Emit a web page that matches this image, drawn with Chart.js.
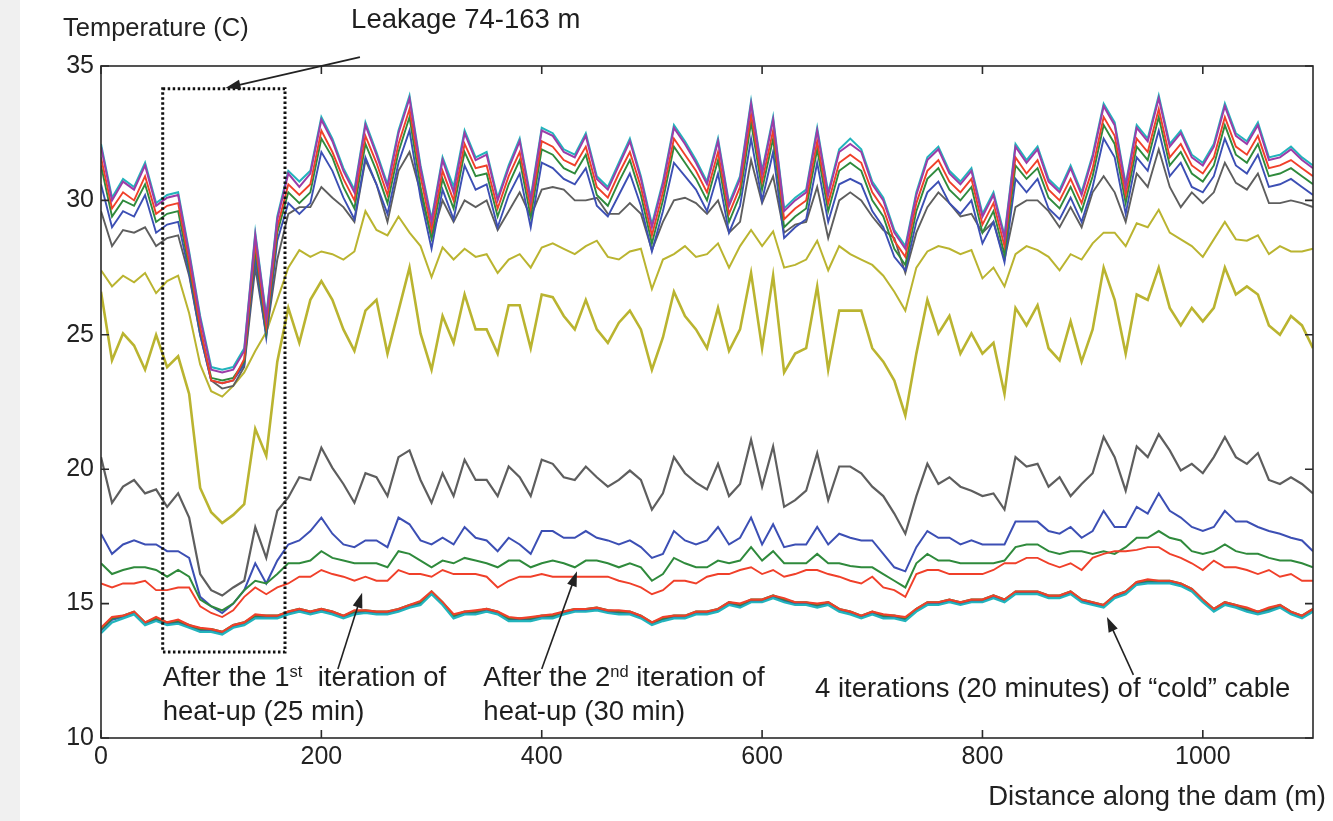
<!DOCTYPE html>
<html>
<head>
<meta charset="utf-8">
<script src="https://cdn.jsdelivr.net/npm/chart.js@4/dist/chart.umd.min.js"></script>
<style>
  html, body { margin: 0; padding: 0; background: #fff; }
  #wrap { width: 1333px; height: 821px; position: relative; }
</style>
</head>
<body>
<div id="wrap"><canvas id="chart" width="1333" height="821"></canvas></div>
<script>
// Distance along the dam (m), one sample every 10 m
const distance = [0,10,20,30,40,50,60,70,80,90,100,110,120,130,140,150,160,170,180,190,
  200,210,220,230,240,250,260,270,280,290,300,310,320,330,340,350,360,370,380,390,
  400,410,420,430,440,450,460,470,480,490,500,510,520,530,540,550,560,570,580,590,
  600,610,620,630,640,650,660,670,680,690,700,710,720,730,740,750,760,770,780,790,
  800,810,820,830,840,850,860,870,880,890,900,910,920,930,940,950,960,970,980,990,
  1000,1010,1020,1030,1040,1050,1060,1070,1080,1090,1100];

const xTicks = [0, 200, 400, 600, 800, 1000];
const yTicks = [10, 15, 20, 25, 30, 35];

// heated cable, last iterations (top bundle)
const hotPurple = [32.0,30.0,30.7,30.4,31.3,29.8,30.1,30.2,28.0,25.6,
  23.7,23.6,23.7,24.4,28.7,25.6,29.3,31.0,30.5,31.0,
  33.0,32.2,31.1,30.3,32.8,31.7,30.5,32.5,33.8,31.2,
  29.2,31.5,30.3,32.5,31.5,31.7,30.0,31.2,32.2,30.0,
  32.6,32.4,31.8,31.6,32.4,30.8,30.4,31.3,32.2,30.8,
  29.0,30.6,32.7,32.1,31.4,30.6,32.2,29.8,30.8,33.6,
  31.0,33.0,29.6,30.0,30.3,32.6,30.2,31.8,32.1,31.8,
  30.6,30.0,28.8,28.2,30.2,31.5,31.9,31.0,30.6,31.1,
  29.4,30.2,28.6,32.0,31.4,31.9,30.7,30.3,31.2,30.2,
  31.6,33.5,32.8,30.5,32.7,32.2,33.8,32.0,32.5,31.6,
  31.3,32.0,33.5,32.4,32.1,32.8,31.5,31.6,31.9,31.5,31.2];
const hotCyan = [32.1,30.1,30.8,30.5,31.4,29.9,30.2,30.3,28.1,25.7,
  23.8,23.7,23.8,24.5,28.8,25.7,29.4,31.1,30.7,31.1,
  33.1,32.3,31.2,30.4,32.9,31.8,30.6,32.6,33.9,31.3,
  29.3,31.6,30.5,32.6,31.6,31.8,30.1,31.3,32.3,30.1,
  32.7,32.5,31.9,31.7,32.5,30.9,30.5,31.4,32.3,30.9,
  29.1,30.7,32.8,32.2,31.5,30.7,32.3,29.9,30.9,33.7,
  31.1,33.1,29.7,30.1,30.4,32.7,30.3,31.9,32.3,31.9,
  30.7,30.1,28.9,28.3,30.3,31.6,32.0,31.1,30.7,31.2,
  29.5,30.3,28.7,32.1,31.5,32.0,30.8,30.4,31.3,30.3,
  31.7,33.6,32.9,30.6,32.8,32.3,33.9,32.1,32.6,31.7,
  31.4,32.1,33.6,32.5,32.2,32.9,31.6,31.7,32.0,31.6,31.3];
const hotRed = [31.6,29.7,30.3,30.0,30.9,29.5,29.8,29.9,27.7,25.3,
  23.3,23.2,23.3,24.1,28.4,25.3,29.0,30.6,30.2,30.6,
  32.6,31.8,30.8,30.0,32.4,31.4,30.2,32.1,33.4,30.9,
  28.9,31.1,30.0,32.1,31.2,31.3,29.7,30.9,31.8,29.7,
  32.2,32.0,31.5,31.3,32.0,30.5,30.1,31.0,31.8,30.5,
  28.7,30.3,32.3,31.7,31.1,30.3,31.8,29.5,30.5,33.2,
  30.7,32.6,29.3,29.7,30.0,32.2,29.9,31.4,31.7,31.4,
  30.3,29.7,28.5,27.9,29.9,31.1,31.5,30.7,30.3,30.8,
  29.1,29.9,28.3,31.6,31.0,31.5,30.4,30.0,30.8,29.9,
  31.2,33.1,32.4,30.2,32.3,31.8,33.4,31.6,32.1,31.3,
  31.0,31.6,33.1,32.0,31.7,32.4,31.2,31.3,31.5,31.2,30.9];
const hotGreen = [31.3,29.4,30.0,29.8,30.6,29.2,29.5,29.6,27.5,25.2,
  23.4,23.3,23.4,24.0,28.2,25.1,28.8,30.3,29.9,30.3,
  32.3,31.6,30.5,29.7,32.1,31.1,29.9,31.8,33.1,30.5,
  28.6,30.8,29.7,31.8,30.9,31.0,29.4,30.6,31.5,29.4,
  31.9,31.7,31.2,31.0,31.7,30.2,29.8,30.7,31.5,30.2,
  28.4,30.0,32.0,31.4,30.8,30.0,31.5,29.2,30.2,32.9,
  30.4,32.3,29.0,29.4,29.7,31.9,29.6,31.1,31.4,31.1,
  30.0,29.4,28.2,27.6,29.6,30.8,31.2,30.4,30.0,30.5,
  28.8,29.6,28.0,31.3,30.8,31.2,30.1,29.7,30.5,29.6,
  30.9,32.8,32.1,29.9,32.0,31.5,33.1,31.3,31.8,31.0,
  30.7,31.3,32.8,31.7,31.4,32.1,30.9,31.0,31.2,30.9,30.6];
const hotBlue = [30.6,29.0,29.6,29.4,30.2,28.8,29.1,29.2,27.3,25.0,
  23.3,23.2,23.3,23.9,27.9,24.9,28.5,29.9,29.5,29.9,
  31.8,31.1,30.1,29.3,31.6,30.6,29.5,31.4,32.6,30.1,
  28.2,30.4,29.3,31.3,30.4,30.6,29.0,30.2,31.0,29.0,
  31.4,31.2,30.8,30.6,31.2,29.8,29.4,30.2,31.0,29.8,
  28.1,29.6,31.4,30.9,30.4,29.6,31.0,28.8,29.8,32.3,
  30.0,31.8,28.6,29.0,29.3,31.4,29.2,30.6,30.8,30.6,
  29.6,29.0,27.9,27.4,29.2,30.3,30.7,29.9,29.5,30.0,
  28.4,29.2,27.7,30.8,30.3,30.8,29.7,29.3,30.1,29.2,
  30.5,32.3,31.6,29.5,31.6,31.1,32.6,30.9,31.4,30.5,
  30.3,30.9,32.3,31.3,31.0,31.7,30.5,30.6,30.8,30.5,30.2];
const hotGray = [29.6,28.3,28.9,28.8,29.0,28.3,28.6,28.7,27.2,25.0,
  23.3,23.0,23.1,23.8,27.5,25.0,27.8,29.5,29.75,29.75,
  30.5,30.1,29.75,29.2,31.5,30.6,29.2,31.1,31.8,30.3,
  28.6,30.0,29.2,30.0,29.75,30.0,28.9,29.6,30.3,29.4,
  30.4,30.5,30.4,30.0,30.0,30.1,29.5,29.5,29.9,29.5,
  28.15,29.2,30.0,30.1,29.9,29.5,30.0,28.8,29.2,31.5,
  29.9,30.9,28.8,29.1,29.2,30.5,28.6,30.0,30.3,30.0,
  29.4,28.9,28.6,27.3,28.8,29.75,30.3,29.9,29.4,29.5,
  28.8,29.2,27.8,29.75,30.0,30.0,29.6,29.0,29.75,29.0,
  30.3,30.9,30.3,29.2,31.0,30.5,31.9,30.5,29.75,30.3,
  29.9,30.3,31.4,30.65,30.4,31.0,29.9,29.9,30.0,29.9,29.75];

// second heat-up iteration (olive pair)
const oliveUpper = [27.4,26.8,27.2,26.95,27.3,26.55,27.0,27.2,25.8,23.9,
  22.9,22.7,23.1,23.6,24.4,25.1,26.3,27.5,28.15,27.9,
  28.1,28.0,27.8,28.1,29.6,28.9,28.7,29.4,28.8,28.3,
  27.15,28.25,27.8,28.2,27.9,28.0,27.3,27.8,28.0,27.5,
  28.25,28.4,28.2,28.0,28.3,28.5,27.9,27.8,28.1,28.2,
  26.7,27.8,28.0,28.3,27.9,28.0,28.4,27.5,28.3,28.9,
  28.3,28.85,27.5,27.6,27.8,28.5,27.4,28.3,28.0,27.8,
  27.6,27.2,26.6,25.9,27.5,28.1,28.3,28.2,28.0,28.15,
  27.1,27.5,26.8,28.0,28.3,28.15,27.9,27.4,28.0,27.8,
  28.4,28.8,28.8,28.3,29.15,29.0,29.65,28.8,28.55,28.3,
  27.9,28.55,29.2,28.55,28.5,28.7,28.0,28.3,28.1,28.1,28.2];
const oliveLower = [26.6,24.05,25.05,24.6,23.7,25.0,23.8,24.2,22.8,19.3,
  18.4,18.0,18.3,18.7,21.5,20.5,24.0,26.0,24.7,26.3,
  27.0,26.3,25.2,24.4,25.9,26.3,24.3,25.9,27.5,25.05,
  23.7,25.7,24.7,26.5,25.2,25.2,24.3,26.1,26.1,24.5,
  26.5,26.4,25.7,25.2,26.3,25.2,24.7,25.45,25.9,25.2,
  23.7,24.9,26.6,25.7,25.2,24.5,26.0,24.4,25.2,27.3,
  24.5,27.2,23.6,24.3,24.5,26.8,23.7,25.9,25.9,25.9,
  24.5,24.0,23.3,22.0,24.3,26.3,25.05,25.7,24.3,25.05,
  24.3,24.7,22.8,26.0,25.35,26.1,24.5,24.05,25.5,24.0,
  25.2,27.5,26.3,24.3,26.5,26.3,27.5,26.0,25.35,26.0,
  25.5,26.0,27.5,26.5,26.8,26.5,25.35,25.0,25.7,25.35,24.5];

// first heat-up iteration (middle bundle)
const midGray = [20.45,18.75,19.35,19.6,19.1,19.25,18.6,19.1,18.2,16.1,
  15.5,15.3,15.6,15.85,17.85,16.7,18.45,18.95,19.7,19.6,
  20.8,20.05,19.45,18.75,19.85,19.7,19.0,20.45,20.7,19.6,
  18.75,19.85,19.0,20.35,19.6,19.6,19.0,20.1,19.7,19.0,
  20.35,20.2,19.7,19.6,20.1,19.7,19.35,19.6,19.95,19.6,
  18.5,19.1,20.45,19.85,19.5,19.25,20.2,19.0,19.45,21.1,
  19.35,20.85,18.6,18.85,19.2,20.6,18.85,20.1,20.1,19.85,
  19.35,19.0,18.35,17.6,19.0,20.2,19.45,19.7,19.35,19.2,
  19.0,19.1,18.5,20.45,20.1,20.2,19.35,19.7,19.0,19.45,
  19.85,21.2,20.45,19.2,20.85,20.45,21.3,20.7,19.95,20.2,
  19.85,20.45,21.2,20.45,20.2,20.6,19.6,19.45,19.7,19.45,19.1];
const midBlue = [17.6,16.85,17.2,17.35,17.2,17.2,16.95,16.95,16.7,15.25,
  14.9,14.65,15.0,15.5,16.5,15.75,16.6,17.2,17.35,17.7,
  18.2,17.6,17.2,17.1,17.35,17.35,17.1,18.2,17.95,17.35,
  17.2,17.45,17.2,17.85,17.45,17.35,16.95,17.45,17.2,16.85,
  17.7,17.7,17.45,17.45,17.7,17.45,17.35,17.2,17.35,17.1,
  16.7,16.85,17.7,17.35,17.2,17.35,17.85,17.2,17.45,18.2,
  17.2,17.95,17.1,17.2,17.2,17.85,17.2,17.6,17.45,17.35,
  17.35,16.85,16.35,16.2,17.1,17.7,17.45,17.45,17.2,17.35,
  17.2,17.2,17.2,18.05,18.05,18.05,17.7,17.6,17.85,17.45,
  17.7,18.45,17.85,17.85,18.6,18.35,19.1,18.45,18.2,17.85,
  17.7,17.85,18.45,18.05,18.05,17.85,17.7,17.6,17.45,17.35,16.95];
const midGreen = [16.5,16.1,16.25,16.35,16.35,16.25,16.0,16.25,16.0,15.15,
  14.9,14.75,15.0,15.5,15.85,15.75,16.1,16.5,16.5,16.6,
  16.95,16.7,16.6,16.5,16.5,16.5,16.35,16.95,16.85,16.6,
  16.35,16.6,16.5,16.7,16.6,16.5,16.35,16.6,16.6,16.35,
  16.5,16.6,16.5,16.35,16.6,16.6,16.5,16.35,16.5,16.35,
  15.85,16.1,16.7,16.5,16.35,16.35,16.6,16.5,16.6,17.1,
  16.6,16.95,16.5,16.5,16.5,16.85,16.5,16.5,16.4,16.35,
  16.35,16.1,15.85,15.6,16.5,16.85,16.6,16.6,16.5,16.5,
  16.5,16.5,16.6,17.1,17.2,17.2,16.95,16.85,16.95,16.95,
  16.85,16.95,16.85,17.1,17.45,17.45,17.7,17.45,17.35,16.95,
  16.85,16.95,17.2,16.95,16.85,16.85,16.7,16.6,16.6,16.5,16.35];
const midRed = [15.75,15.6,15.75,15.75,15.85,15.5,15.5,15.6,15.6,14.9,
  14.65,14.5,14.75,15.25,15.6,15.35,15.6,15.75,16.0,16.0,
  16.25,16.1,16.0,15.85,16.0,15.85,15.85,16.25,16.1,16.1,
  16.0,16.25,16.1,16.1,16.1,16.0,15.6,15.85,16.0,16.0,
  16.1,16.0,16.0,16.0,16.0,16.0,16.0,15.85,15.75,15.6,
  15.35,15.5,15.85,15.85,15.75,16.0,16.1,16.1,16.25,16.35,
  16.1,16.25,16.0,16.1,16.25,16.25,16.1,16.0,15.85,15.75,
  16.0,15.6,15.5,15.25,16.1,16.25,16.25,16.1,16.1,16.1,
  16.1,16.25,16.5,16.5,16.7,16.7,16.5,16.35,16.5,16.25,
  16.7,16.85,16.95,16.95,17.0,17.1,17.1,16.85,16.7,16.5,
  16.25,16.6,16.35,16.35,16.25,16.1,16.25,16.0,16.1,15.85,15.85];

// "cold" cable, 4 iterations
const coldCyan = [13.9,14.3,14.45,14.6,14.2,14.35,14.2,14.25,14.1,13.95,
  13.95,13.85,14.1,14.2,14.45,14.45,14.45,14.6,14.7,14.6,
  14.7,14.6,14.45,14.6,14.65,14.6,14.6,14.7,14.85,14.95,
  15.35,14.95,14.45,14.6,14.6,14.7,14.6,14.35,14.35,14.35,
  14.45,14.45,14.6,14.7,14.7,14.75,14.65,14.6,14.6,14.45,
  14.2,14.35,14.45,14.45,14.6,14.6,14.7,14.95,14.85,15.05,
  15.05,15.2,15.05,14.95,14.95,14.85,14.95,14.7,14.6,14.45,
  14.6,14.45,14.45,14.35,14.7,14.95,14.95,15.05,14.95,15.05,
  15.05,15.2,15.05,15.35,15.35,15.35,15.2,15.2,15.35,15.05,
  14.95,14.85,15.2,15.35,15.7,15.75,15.75,15.75,15.65,15.45,
  15.05,14.7,14.95,14.85,14.7,14.6,14.7,14.85,14.6,14.45,14.7];
const coldRed = [14.1,14.5,14.55,14.7,14.3,14.5,14.3,14.4,14.2,14.1,
  14.05,13.95,14.2,14.3,14.6,14.55,14.55,14.7,14.8,14.7,
  14.8,14.7,14.55,14.75,14.75,14.7,14.7,14.8,14.95,15.1,
  15.45,15.05,14.6,14.7,14.75,14.8,14.7,14.5,14.45,14.5,
  14.55,14.6,14.7,14.8,14.8,14.85,14.75,14.75,14.7,14.55,
  14.3,14.5,14.55,14.55,14.7,14.7,14.8,15.05,15.0,15.15,
  15.15,15.3,15.2,15.05,15.05,15.0,15.05,14.8,14.7,14.55,
  14.7,14.6,14.55,14.5,14.8,15.05,15.05,15.15,15.05,15.15,
  15.15,15.3,15.15,15.45,15.45,15.45,15.3,15.3,15.45,15.15,
  15.05,14.95,15.3,15.45,15.8,15.9,15.85,15.85,15.75,15.55,
  15.15,14.8,15.05,14.95,14.85,14.7,14.85,14.95,14.7,14.55,14.8];
const coldGreen = [14.05,14.45,14.55,14.7,14.3,14.45,14.3,14.35,14.2,14.05,
  14.05,13.95,14.2,14.3,14.55,14.55,14.55,14.7,14.8,14.7,
  14.8,14.7,14.55,14.7,14.75,14.7,14.7,14.8,14.95,15.05,
  15.45,15.05,14.55,14.7,14.7,14.8,14.7,14.45,14.45,14.45,
  14.55,14.55,14.7,14.8,14.8,14.85,14.75,14.7,14.7,14.55,
  14.3,14.45,14.55,14.55,14.7,14.7,14.8,15.05,14.95,15.15,
  15.15,15.3,15.15,15.05,15.05,14.95,15.05,14.8,14.7,14.55,
  14.7,14.55,14.55,14.45,14.8,15.05,15.05,15.15,15.05,15.15,
  15.15,15.3,15.15,15.45,15.45,15.45,15.3,15.3,15.45,15.15,
  15.05,14.95,15.3,15.45,15.8,15.85,15.85,15.85,15.75,15.55,
  15.15,14.8,15.05,14.95,14.8,14.7,14.8,14.95,14.7,14.55,14.8];
const coldBlue = [14.0,14.4,14.5,14.65,14.25,14.4,14.25,14.3,14.15,14.0,
  14.0,13.9,14.15,14.25,14.5,14.5,14.5,14.65,14.75,14.65,
  14.75,14.65,14.5,14.65,14.7,14.65,14.65,14.75,14.9,15.0,
  15.4,15.0,14.5,14.65,14.65,14.75,14.65,14.4,14.4,14.4,
  14.5,14.5,14.65,14.75,14.75,14.8,14.7,14.65,14.65,14.5,
  14.25,14.4,14.5,14.5,14.65,14.65,14.75,15.0,14.9,15.1,
  15.1,15.25,15.1,15.0,15.0,14.9,15.0,14.75,14.65,14.5,
  14.65,14.5,14.5,14.4,14.75,15.0,15.0,15.1,15.0,15.1,
  15.1,15.25,15.1,15.4,15.4,15.4,15.25,15.25,15.4,15.1,
  15.0,14.9,15.25,15.4,15.75,15.8,15.8,15.8,15.7,15.5,
  15.1,14.75,15.0,14.9,14.75,14.65,14.75,14.9,14.65,14.5,14.75];

// leakage zone marked on the figure (m, °C)
const leakBox = { x0: 56, x1: 167, y0: 13.2, y1: 34.15 };

const C = {
  purple: '#9c3ca8', cyan: '#22b4bc', red: '#f0402a', green: '#2f8a3c',
  blue: '#3c4fb4', gray: '#5e5e5e', olive: '#bab430'
};
const FONT = '"Liberation Sans", Arial, sans-serif';

function line(data, color, width) {
  return { data, borderColor: color, borderWidth: width || 1.9, pointRadius: 0, tension: 0, fill: false };
}

// first entry is painted last (on top)
const datasets = [
  line(coldCyan, C.cyan, 2.2), line(coldRed, C.red, 2.2), line(coldGreen, C.green, 2.2), line(coldBlue, C.blue, 2.2),
  line(midRed, C.red), line(midGreen, C.green, 2.0), line(midBlue, C.blue, 2.0), line(midGray, C.gray, 2.2),
  line(hotPurple, C.purple, 2.0), line(hotCyan, C.cyan, 2.0), line(hotRed, C.red), line(hotGreen, C.green),
  line(hotBlue, C.blue), line(hotGray, C.gray),
  line(oliveUpper, C.olive, 2.0), line(oliveLower, C.olive, 2.6)
];

function arrow(ctx, x1, y1, x2, y2) {
  const a = Math.atan2(y2 - y1, x2 - x1), L = 15, W = 5;
  ctx.beginPath();
  ctx.moveTo(x1, y1);
  ctx.lineTo(x2 - Math.cos(a) * L * 0.8, y2 - Math.sin(a) * L * 0.8);
  ctx.stroke();
  ctx.beginPath();
  ctx.moveTo(x2, y2);
  ctx.lineTo(x2 - Math.cos(a) * L + Math.sin(a) * W, y2 - Math.sin(a) * L - Math.cos(a) * W);
  ctx.lineTo(x2 - Math.cos(a) * L - Math.sin(a) * W, y2 - Math.sin(a) * L + Math.cos(a) * W);
  ctx.closePath();
  ctx.fill();
}

// text with optional superscript pieces, left aligned, vertically centred on y
function richText(ctx, parts, x, y, size) {
  let cx = x;
  parts.forEach(p => {
    const s = p.sup ? size * 0.6 : size;
    ctx.font = s + 'px ' + FONT;
    ctx.fillText(p.t, cx, p.sup ? y - size * 0.25 : y);
    cx += ctx.measureText(p.t).width;
  });
}

const overlay = {
  id: 'overlay',
  beforeDraw(chart) {
    const ctx = chart.ctx;
    ctx.save();
    ctx.fillStyle = '#ffffff';
    ctx.fillRect(0, 0, chart.width, chart.height);
    ctx.fillStyle = '#f0f0f0';
    ctx.fillRect(0, 0, 20, chart.height);
    ctx.restore();
  },
  afterDraw(chart) {
    const ctx = chart.ctx;
    const x = chart.scales.x, y = chart.scales.y;
    const { left, right, top, bottom } = chart.chartArea;
    const px = v => x.getPixelForValue(v), py = v => y.getPixelForValue(v);
    ctx.save();

    // frame + inward ticks
    ctx.strokeStyle = '#2a2a2a';
    ctx.lineWidth = 1.6;
    ctx.strokeRect(left, top, right - left, bottom - top);
    ctx.fillStyle = '#222';
    ctx.textBaseline = 'middle';
    ctx.font = '25px ' + FONT;
    xTicks.forEach(v => {
      const p = px(v);
      ctx.beginPath();
      ctx.moveTo(p, bottom); ctx.lineTo(p, bottom - 8);
      ctx.moveTo(p, top); ctx.lineTo(p, top + 8);
      ctx.stroke();
      ctx.textAlign = 'center';
      ctx.fillText(String(v), p, bottom + 19);
    });
    yTicks.forEach(v => {
      const p = py(v);
      ctx.beginPath();
      ctx.moveTo(left, p); ctx.lineTo(left + 8, p);
      ctx.moveTo(right, p); ctx.lineTo(right - 8, p);
      ctx.stroke();
      ctx.textAlign = 'right';
      ctx.fillText(String(v), left - 7, p);
    });

    // axis titles
    ctx.textAlign = 'left';
    ctx.font = '25.5px ' + FONT;
    ctx.fillText('Temperature (C)', 63, 29);
    ctx.textAlign = 'right';
    ctx.font = '27.5px ' + FONT;
    ctx.fillText('Distance along the dam (m)', 1326, 797);

    // leakage box
    ctx.strokeStyle = '#111';
    ctx.lineWidth = 3;
    ctx.setLineDash([2.5, 2.5]);
    ctx.strokeRect(px(leakBox.x0), py(leakBox.y1), px(leakBox.x1) - px(leakBox.x0), py(leakBox.y0) - py(leakBox.y1));
    ctx.setLineDash([]);

    // annotations
    ctx.textAlign = 'left';
    ctx.fillStyle = '#1e1e1e';
    ctx.font = '27.5px ' + FONT;
    ctx.fillText('Leakage 74-163 m', px(227), py(36.7));
    richText(ctx, [{ t: 'After the 1' }, { t: 'st', sup: true }, { t: '  iteration of' }], px(56), py(12.2), 27.5);
    richText(ctx, [{ t: 'heat-up (25 min)' }], px(56), py(10.95), 27.5);
    richText(ctx, [{ t: 'After the 2' }, { t: 'nd', sup: true }, { t: ' iteration of' }], px(347), py(12.2), 27.5);
    richText(ctx, [{ t: 'heat-up (30 min)' }], px(347), py(10.95), 27.5);
    ctx.font = '27.5px ' + FONT;
    ctx.fillText('4 iterations (20 minutes) of \u201Ccold\u201D cable', px(648), py(11.8));

    ctx.strokeStyle = '#222';
    ctx.fillStyle = '#222';
    ctx.lineWidth = 1.6;
    arrow(ctx, px(235), py(35.33), px(113), py(34.18));
    arrow(ctx, px(215), py(12.57), px(237), py(15.4));
    arrow(ctx, px(400), py(12.57), px(432), py(16.2));
    arrow(ctx, px(937), py(12.35), px(913), py(14.5));
    ctx.restore();
  }
};

new Chart(document.getElementById('chart'), {
  type: 'line',
  data: { labels: distance, datasets },
  options: {
    responsive: false,
    animation: false,
    events: [],
    layout: { padding: { left: 101, right: 20, top: 66, bottom: 83 } },
    plugins: { legend: { display: false }, tooltip: { enabled: false } },
    scales: {
      x: { type: 'linear', min: 0, max: 1100, display: false },
      y: { type: 'linear', min: 10, max: 35, display: false }
    }
  },
  plugins: [overlay]
});
</script>
</body>
</html>
